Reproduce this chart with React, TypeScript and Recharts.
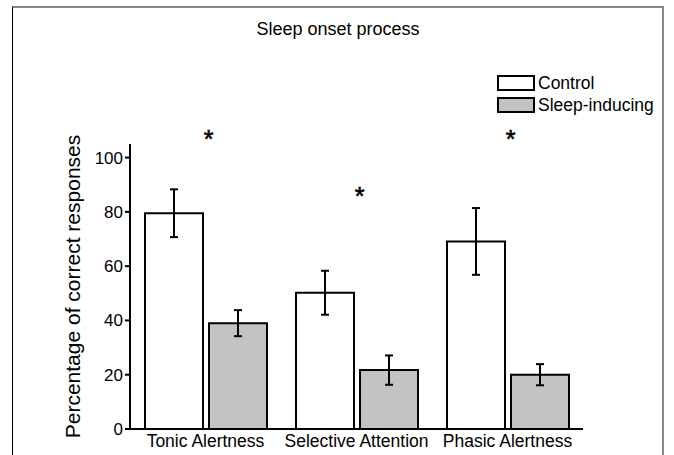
import React from 'react';
import { BarChart, Bar, XAxis, YAxis, ErrorBar, ReferenceDot, Legend } from 'recharts';

const categories = ['Tonic Alertness', 'Selective Attention', 'Phasic Alertness'];
const controlValues = [79.5, 50.2, 69.1];
const controlErrors = [8.8, 8.1, 12.3];
const sleepValues = [39.0, 21.7, 20.0];
const sleepErrors = [4.8, 5.4, 3.9];
const seriesNames = ['Control', 'Sleep-inducing'];
const seriesFills = ['#ffffff', '#c3c3c3'];
const yTicks = [0, 20, 40, 60, 80, 100];
const asteriskValues = [109, 88, 109];
const titleText = 'Sleep onset process';
const yLabelText = 'Percentage of correct responses';

const data = categories.map((c, i) => ({
  name: c,
  control: controlValues[i],
  controlErr: controlErrors[i],
  sleep: sleepValues[i],
  sleepErr: sleepErrors[i],
}));

const FONT = '"Liberation Sans", Arial, sans-serif';

const renderLegend = () => (
  <div style={{ fontFamily: FONT, fontSize: 17.5, color: '#000' }}>
    {seriesNames.map((n, i) => (
      <div key={n} style={{ display: 'flex', alignItems: 'center', height: 22 }}>
        <div
          style={{
            width: 34,
            height: 12,
            border: '2px solid #000',
            background: seriesFills[i],
            marginRight: 3,
          }}
        />
        <span>{n}</span>
      </div>
    ))}
  </div>
);

const Asterisk = (props: any) => {
  const { cx, cy } = props;
  return (
    <text x={cx + 3} y={cy + 15} textAnchor="middle" fontSize={25} fontFamily={FONT} fill="#000" stroke="#000" strokeWidth={0.6}>
      *
    </text>
  );
};

export default function App() {
  return (
    <div style={{ position: 'absolute', left: 0, top: 0, width: 674, height: 455, background: '#fff', overflow: 'hidden' }}>
      <div
        style={{
          position: 'absolute',
          left: 12,
          top: 6,
          width: 649,
          height: 520,
          borderTop: '2px solid #888',
          borderRight: '2px solid #888',
          borderLeft: '1px solid #000',
        }}
      />
      <div
        style={{
          position: 'absolute',
          left: 0,
          top: 19,
          width: 676,
          textAlign: 'center',
          fontFamily: FONT,
          fontSize: 18,
          color: '#000',
        }}
      >
        {titleText}
      </div>
      <div style={{ position: 'absolute', left: 0, top: 0 }}>
        <BarChart
          width={674}
          height={455}
          data={data}
          margin={{ top: 144, right: 91, left: 60, bottom: 0 }}
          barCategoryGap={15}
          barGap={6}
        >
          <XAxis
            dataKey="name"
            height={26}
            tickLine={false}
            axisLine={{ stroke: '#000', strokeWidth: 2 }}
            tick={{ fill: '#000', fontSize: 17.5, fontFamily: FONT }}
            tickSize={4}
            interval={0}
          />
          <YAxis
            width={70}
            domain={[0, 105]}
            ticks={yTicks}
            allowDataOverflow
            axisLine={{ stroke: '#000', strokeWidth: 2 }}
            tickLine={{ stroke: '#000', strokeWidth: 2 }}
            tickSize={5}
            tick={{ fill: '#000', fontSize: 17, fontFamily: FONT }}
            label={{
              value: yLabelText,
              angle: -90,
              position: 'center',
              dx: -22,
              style: { fontSize: 21, fontFamily: FONT, fill: '#000', textAnchor: 'middle' },
            }}
          />
          <Legend
            layout="vertical"
            align="center"
            verticalAlign="middle"
            content={renderLegend}
            wrapperStyle={{ position: 'absolute', left: 497, top: 72, width: 175 }}
          />
          <Bar dataKey="control" name={seriesNames[0]} fill={seriesFills[0]} stroke="#000" strokeWidth={2} isAnimationActive={false}>
            <ErrorBar dataKey="controlErr" width={4} stroke="#000" strokeWidth={2} isAnimationActive={false} />
          </Bar>
          <Bar dataKey="sleep" name={seriesNames[1]} fill={seriesFills[1]} stroke="#000" strokeWidth={2} isAnimationActive={false}>
            <ErrorBar dataKey="sleepErr" width={4} stroke="#000" strokeWidth={2} isAnimationActive={false} />
          </Bar>
          {categories.map((c, i) => (
            <ReferenceDot key={c} x={c} y={asteriskValues[i]} r={0} ifOverflow="visible" shape={Asterisk} />
          ))}
        </BarChart>
      </div>
    </div>
  );
}
